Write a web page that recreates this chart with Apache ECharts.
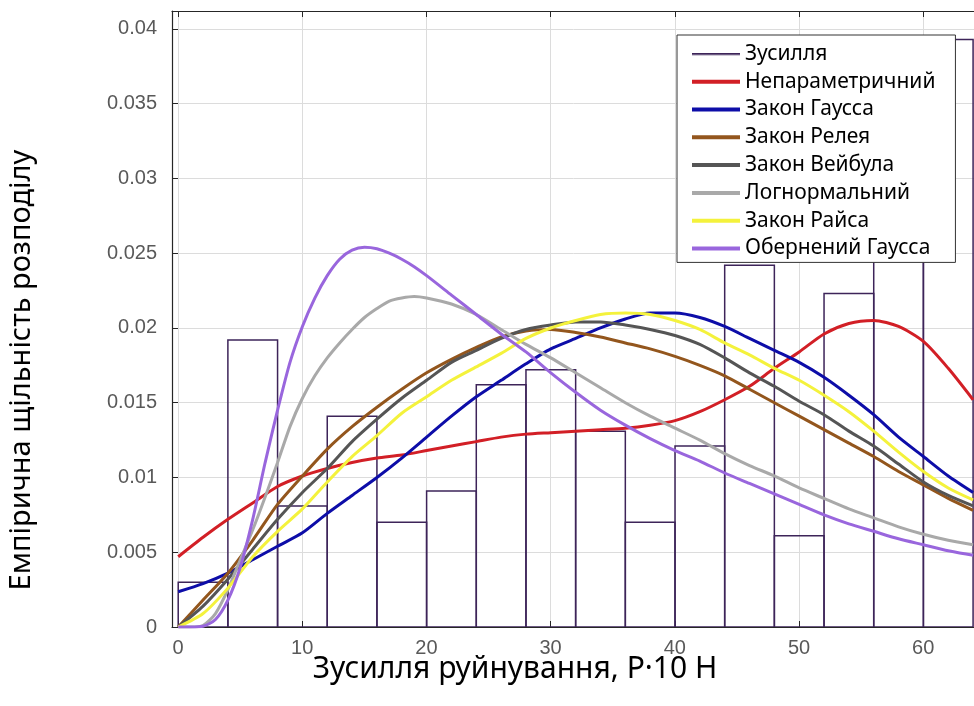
<!DOCTYPE html>
<html>
<head>
<meta charset="utf-8">
<script src="https://cdn.jsdelivr.net/npm/echarts@6/dist/echarts.min.js"></script>
<style>
  html, body { margin: 0; padding: 0; background: #ffffff; }
  #chart { width: 974px; height: 706px; }
</style>
</head>
<body>
<div id="chart"></div>
<script>
// Histogram of breaking force: bin left edges, bin width and densities
const binLeft = [0, 4, 8, 12, 16, 20, 24, 28, 32, 36, 40, 44, 48, 52, 56, 60];
const binWidth = 4;
const binDensity = [0.0030, 0.0192, 0.0081, 0.0141, 0.0070, 0.0091, 0.0162, 0.0172,
                    0.0131, 0.0070, 0.0121, 0.0242, 0.0061, 0.0223, 0.0310, 0.0393];

// Fitted density curves, sampled on two x grids
const xEven = [0, 2, 4, 6, 8, 10, 12, 14, 16, 18, 20, 22, 24, 26, 28, 30, 32,
               34, 36, 38, 40, 42, 44, 46, 48, 50, 52, 54, 56, 58, 60, 62, 64];
const xDense = [0, 1, 2, 3, 4, 5, 6, 7, 8, 9, 10, 11, 12, 13, 14, 15, 16, 17, 18, 19, 20,
                22, 24, 26, 28, 30, 32, 34, 36, 38, 40, 42, 44, 46, 48, 50, 52, 54, 56, 58, 60, 62, 64];

const nonParam = [0.0047, 0.0060, 0.0072, 0.0083, 0.0094, 0.0101, 0.0106, 0.0110, 0.0113, 0.0115, 0.0118,
                  0.0121, 0.0124, 0.0127, 0.0129, 0.0130, 0.0131, 0.0132, 0.0133, 0.0135, 0.0138, 0.0144,
                  0.0152, 0.0161, 0.0173, 0.0184, 0.0196, 0.0203, 0.0205, 0.0201, 0.0191, 0.0173, 0.0152];
const gauss = [0.00236, 0.0029, 0.0036, 0.0045, 0.0054, 0.0063, 0.0076, 0.0088, 0.0100, 0.0113, 0.0127,
               0.0141, 0.0154, 0.0165, 0.0176, 0.0186, 0.0193, 0.0200, 0.0206, 0.0210, 0.0210, 0.0207,
               0.0201, 0.0193, 0.0185, 0.0177, 0.0167, 0.0155, 0.0142, 0.0127, 0.0114, 0.0101, 0.0090];
const rayleigh = [0, 0.0018, 0.0036, 0.0058, 0.0082, 0.0101, 0.0119, 0.0134, 0.0147, 0.0159, 0.0170,
                  0.0179, 0.0187, 0.0194, 0.0198, 0.0199, 0.0197, 0.0194, 0.0190, 0.0186, 0.0181, 0.0175,
                  0.0168, 0.0159, 0.0150, 0.0141, 0.0132, 0.0123, 0.0114, 0.0104, 0.0095, 0.0086, 0.0078];
const weibull = [0, 0.0014, 0.0032, 0.0052, 0.0072, 0.0090, 0.0106, 0.0124, 0.0139, 0.0153, 0.0165,
                 0.0177, 0.0185, 0.0193, 0.0199, 0.0202, 0.0204, 0.0204, 0.0202, 0.0199, 0.0195, 0.0189,
                 0.0180, 0.0170, 0.0161, 0.0151, 0.0142, 0.0131, 0.0121, 0.0109, 0.0097, 0.0088, 0.0081];
const lognormal = [0, 0, 0.0001, 0.0009, 0.0025, 0.0045, 0.0065, 0.0087, 0.0110, 0.0134, 0.0153,
                   0.0168, 0.0180, 0.0190, 0.0199, 0.0207, 0.0213, 0.0218, 0.0220, 0.0221, 0.0220,
                   0.0216, 0.0209, 0.0199, 0.0189, 0.0180, 0.0170, 0.0160, 0.0150, 0.0141, 0.0133,
                   0.0125, 0.0116, 0.0108, 0.0101, 0.0093, 0.0086, 0.0079, 0.0073, 0.0067, 0.0062, 0.0058, 0.0055];
const rice = [0, 0.0009, 0.0026, 0.0047, 0.0064, 0.0079, 0.0097, 0.0114, 0.0128, 0.0143, 0.0154,
              0.0165, 0.0174, 0.0183, 0.0193, 0.0200, 0.0205, 0.0209, 0.0210, 0.0209, 0.0205, 0.0199,
              0.0190, 0.0182, 0.0173, 0.0165, 0.0155, 0.0144, 0.0131, 0.0117, 0.0104, 0.0093, 0.0085];
const invGauss = [0, 0, 0.00005, 0.0005, 0.0018, 0.0040, 0.0072, 0.0110, 0.0145, 0.0177, 0.0201,
                  0.0220, 0.0235, 0.0246, 0.0252, 0.0254, 0.0253, 0.0250, 0.0246, 0.0241, 0.0235,
                  0.0222, 0.0209, 0.0196, 0.0184, 0.0170, 0.0157, 0.0145, 0.0135, 0.0126, 0.0118,
                  0.0111, 0.0103, 0.0096, 0.0089, 0.0082, 0.0075, 0.0069, 0.0064, 0.0059, 0.0055, 0.0051, 0.0048];

const yTicks = { min: 0, max: 0.0412, step: 0.005 };
const xTicks = { min: 0, max: 70, step: 10 };

const names = ['Зусилля', 'Непараметричний', 'Закон Гаусса', 'Закон Релея',
               'Закон Вейбула', 'Логнормальний', 'Закон Райса', 'Обернений Гаусса'];
const colors = ['#3d2459', '#d21f26', '#0d0da8', '#93561d', '#555555', '#a9a9a9', '#f4f23c', '#9966dd'];

const pairs = (xs, ys) => xs.map((x, i) => [x, ys[i]]);
const curves = [
  pairs(xEven, nonParam), pairs(xEven, gauss), pairs(xEven, rayleigh), pairs(xEven, weibull),
  pairs(xDense, lognormal), pairs(xEven, rice), pairs(xDense, invGauss)
];

const axisDark = '#262626';
const gridGray = '#dcdcdc';
const tickFont = { fontFamily: 'Liberation Sans', fontSize: 20, color: '#595959' };

const chart = echarts.init(document.getElementById('chart'), null, { renderer: 'canvas' });

const histSeries = {
  name: names[0],
  type: 'custom',
  xAxisIndex: 0, yAxisIndex: 0,
  clip: true,
  z: 2,
  itemStyle: { color: colors[0] },
  encode: { x: [0, 1], y: 2 },
  data: binLeft.map((x, i) => [x, x + binWidth, binDensity[i]]),
  renderItem: function (params, api) {
    const topLeft = api.coord([api.value(0), api.value(2)]);
    const bottomRight = api.coord([api.value(1), 0]);
    return {
      type: 'rect',
      shape: { x: topLeft[0], y: topLeft[1], width: bottomRight[0] - topLeft[0], height: bottomRight[1] - topLeft[1] },
      style: { fill: 'none', stroke: colors[0], lineWidth: 1.5 }
    };
  }
};

const lineSeries = curves.map((d, i) => ({
  name: names[i + 1],
  type: 'line',
  xAxisIndex: 0, yAxisIndex: 0,
  data: d,
  smooth: 0.25,
  symbol: 'none',
  showSymbol: false,
  clip: true,
  z: 3 + i,
  lineStyle: { color: colors[i + 1], width: 3 },
  itemStyle: { color: colors[i + 1] }
}));

const option = {
  backgroundColor: '#ffffff',
  animation: false,
  grid: [
    { left: 172, top: 11, width: 875.6, height: 616, containLabel: false, outerBoundsMode: 'none' },
    { left: 178, top: 11, width: 869.4, height: 616, containLabel: false, outerBoundsMode: 'none' }
  ],
  xAxis: [
    { type: 'value', gridIndex: 0, position: 'bottom', min: -0.5, max: 70,
      axisLine: { show: true, onZero: false, lineStyle: { color: axisDark, width: 1.2 } },
      axisTick: { show: false }, axisLabel: { show: false }, splitLine: { show: false } },
    { type: 'value', gridIndex: 0, position: 'top', min: -0.5, max: 70,
      axisLine: { show: true, onZero: false, lineStyle: { color: axisDark, width: 1.2 } },
      axisTick: { show: false }, axisLabel: { show: false }, splitLine: { show: false } },
    { type: 'value', gridIndex: 1, position: 'bottom', min: xTicks.min, max: xTicks.max, interval: xTicks.step,
      axisLine: { show: false, onZero: false },
      axisTick: { show: true, inside: true, length: 6, lineStyle: { color: axisDark } },
      axisLabel: Object.assign({ margin: 11 }, tickFont),
      splitLine: { show: true, lineStyle: { color: gridGray, width: 1 } } },
    { type: 'value', gridIndex: 1, position: 'top', min: xTicks.min, max: xTicks.max, interval: xTicks.step,
      axisLine: { show: false, onZero: false },
      axisTick: { show: true, inside: true, length: 6, lineStyle: { color: axisDark } },
      axisLabel: { show: false }, splitLine: { show: false } }
  ],
  yAxis: [
    { type: 'value', gridIndex: 0, min: yTicks.min, max: yTicks.max, interval: yTicks.step,
      axisLine: { show: true, onZero: false, lineStyle: { color: axisDark, width: 1.2 } },
      axisTick: { show: true, inside: true, length: 6, lineStyle: { color: axisDark } },
      axisLabel: Object.assign({
        margin: 15,
        showMaxLabel: false,
        formatter: function (v) {
          const k = Math.round(v / yTicks.step);
          if (Math.abs(k * yTicks.step - v) > 1e-9) return '';
          return String(parseFloat((k * yTicks.step).toFixed(3)));
        }
      }, tickFont),
      splitLine: { show: true, showMaxLine: false, lineStyle: { color: gridGray, width: 1 } } },
    { type: 'value', gridIndex: 1, min: 0, max: 1, show: false }
  ],
  legend: {
    orient: 'vertical',
    left: 677, top: 35,
    padding: [5, 20, 0, 15],
    itemGap: 0,
    itemWidth: 48,
    itemHeight: 4,
    icon: 'rect',
    backgroundColor: '#ffffff',
    borderColor: '#333333',
    borderWidth: 1,
    borderRadius: 0,
    z: 10,
    textStyle: { fontFamily: 'Noto Sans', fontSize: 21, color: '#000000', lineHeight: 27.8, padding: [0, 0, 0, 0] },
    data: names.map((n, i) => i === 0
      ? { name: n, icon: 'path://M0,0H48V0.05H0Z M0,1.2H48V2.8H0Z M0,3.95H48V4H0Z' }
      : { name: n })
  },
  graphic: [
    { type: 'text', x: 22, y: 370, rotation: Math.PI / 2, z: 20,
      style: { text: 'Емпірична щільність розподілу', font: '29px "Noto Sans"', fill: '#000000',
               align: 'center', verticalAlign: 'middle' } },
    { type: 'text', x: 515, y: 669, z: 20,
      style: { text: 'Зусилля руйнування, Р·10 Н', font: '30px "Noto Sans"', fill: '#000000',
               align: 'center', verticalAlign: 'middle' } }
  ],
  series: [histSeries].concat(lineSeries)
};

chart.setOption(option);
</script>
</body>
</html>
